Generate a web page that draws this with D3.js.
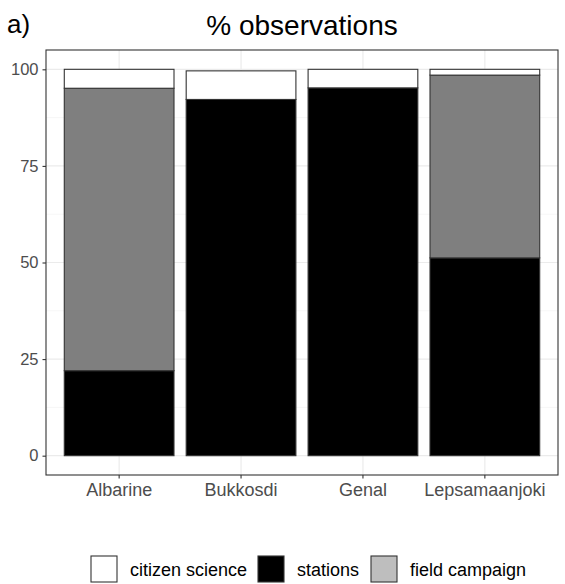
<!DOCTYPE html>
<html>
<head>
<meta charset="utf-8">
<script src="https://cdn.jsdelivr.net/npm/d3@7"></script>
<style>
  body { margin: 0; background: #fff; }
  svg { display: block; font-family: "Liberation Sans", Arial, sans-serif; }
</style>
</head>
<body>
<svg id="chart" width="565" height="584"></svg>
<script>
// Share of observations per river, by source
const rivers = ["Albarine", "Bukkosdi", "Genal", "Lepsamaanjoki"];
const stations = [22.0, 92.2, 95.2, 51.2];
const fieldCampaign = [73.1, 0, 0, 47.3];
const citizenScience = [4.9, 7.4, 4.8, 1.5];
const yTicks = [0, 25, 50, 75, 100];
const sources = ["stations", "field campaign", "citizen science"];
const legendOrder = ["citizen science", "stations", "field campaign"];

const barFill = { "stations": "#000000", "field campaign": "#7f7f7f", "citizen science": "#ffffff" };
const keyFill = { "stations": "#000000", "field campaign": "#bebebe", "citizen science": "#ffffff" };

const rows = rivers.map((r, i) => ({
  river: r,
  "stations": stations[i],
  "field campaign": fieldCampaign[i],
  "citizen science": citizenScience[i]
}));

const svg = d3.select("#chart");
const panel = { left: 46, right: 558, top: 50, bottom: 475 };

const x = d3.scaleBand().domain(rivers)
  .range([panel.left, panel.right]).paddingInner(0.1).paddingOuter(0.15);
const y = d3.scaleLinear().domain([-5, 105]).range([panel.bottom, panel.top]);

// panel grid
const g = svg.append("g");
const minor = d3.range(12.5, 100, 25);
g.selectAll(".minor").data(minor).join("line")
  .attr("x1", panel.left).attr("x2", panel.right)
  .attr("y1", d => y(d)).attr("y2", d => y(d))
  .attr("stroke", "#f2f2f2").attr("stroke-width", 0.7);
g.selectAll(".major").data(yTicks).join("line")
  .attr("x1", panel.left).attr("x2", panel.right)
  .attr("y1", d => y(d)).attr("y2", d => y(d))
  .attr("stroke", "#ebebeb").attr("stroke-width", 1.2);
g.selectAll(".vgrid").data(rivers).join("line")
  .attr("x1", d => x(d) + x.bandwidth() / 2).attr("x2", d => x(d) + x.bandwidth() / 2)
  .attr("y1", panel.top).attr("y2", panel.bottom)
  .attr("stroke", "#ebebeb").attr("stroke-width", 1.2);

// stacked bars
const stack = d3.stack().keys(sources)(rows);
svg.append("g").selectAll("g").data(stack).join("g")
  .attr("fill", d => barFill[d.key])
  .selectAll("rect").data(d => d.filter(s => s[1] - s[0] > 0)).join("rect")
  .attr("x", d => x(d.data.river))
  .attr("width", x.bandwidth())
  .attr("y", d => y(d[1]))
  .attr("height", d => y(d[0]) - y(d[1]))
  .attr("stroke", "#333333")
  .attr("stroke-width", 1.1);

// panel border
svg.append("rect")
  .attr("x", panel.left).attr("y", panel.top)
  .attr("width", panel.right - panel.left).attr("height", panel.bottom - panel.top)
  .attr("fill", "none").attr("stroke", "#333333").attr("stroke-width", 1.1);

// axes
const yAxis = svg.append("g").attr("transform", `translate(${panel.left},0)`)
  .call(d3.axisLeft(y).tickValues(yTicks).tickSize(3.5).tickPadding(4));
const xAxis = svg.append("g").attr("transform", `translate(0,${panel.bottom})`)
  .call(d3.axisBottom(x).tickSize(3.5).tickPadding(5));
[yAxis, xAxis].forEach(a => {
  a.select(".domain").remove();
  a.selectAll(".tick line").attr("stroke", "#333333").attr("stroke-width", 1.1);
  a.selectAll(".tick text").attr("fill", "#4d4d4d")
    .style("font-family", "Liberation Sans, Arial, sans-serif");
});
yAxis.selectAll(".tick text").style("font-size", "16.5px");
xAxis.selectAll(".tick text").style("font-size", "18px");

// titles
svg.append("text").attr("x", 302).attr("y", 35).attr("text-anchor", "middle")
  .style("font-size", "28px").attr("fill", "#000").text("% observations");
svg.append("text").attr("x", 7).attr("y", 33)
  .style("font-size", "26px").attr("fill", "#000").text("a)");

// legend
const legendX = [91, 258, 371];
const lg = svg.append("g");
legendOrder.forEach((k, i) => {
  lg.append("rect").attr("x", legendX[i]).attr("y", 556)
    .attr("width", 26).attr("height", 26)
    .attr("fill", keyFill[k]).attr("stroke", "#333333").attr("stroke-width", 1.1);
  lg.append("text").attr("x", legendX[i] + 39).attr("y", 576)
    .style("font-size", "18px").attr("fill", "#000").text(k);
});
</script>
</body>
</html>
